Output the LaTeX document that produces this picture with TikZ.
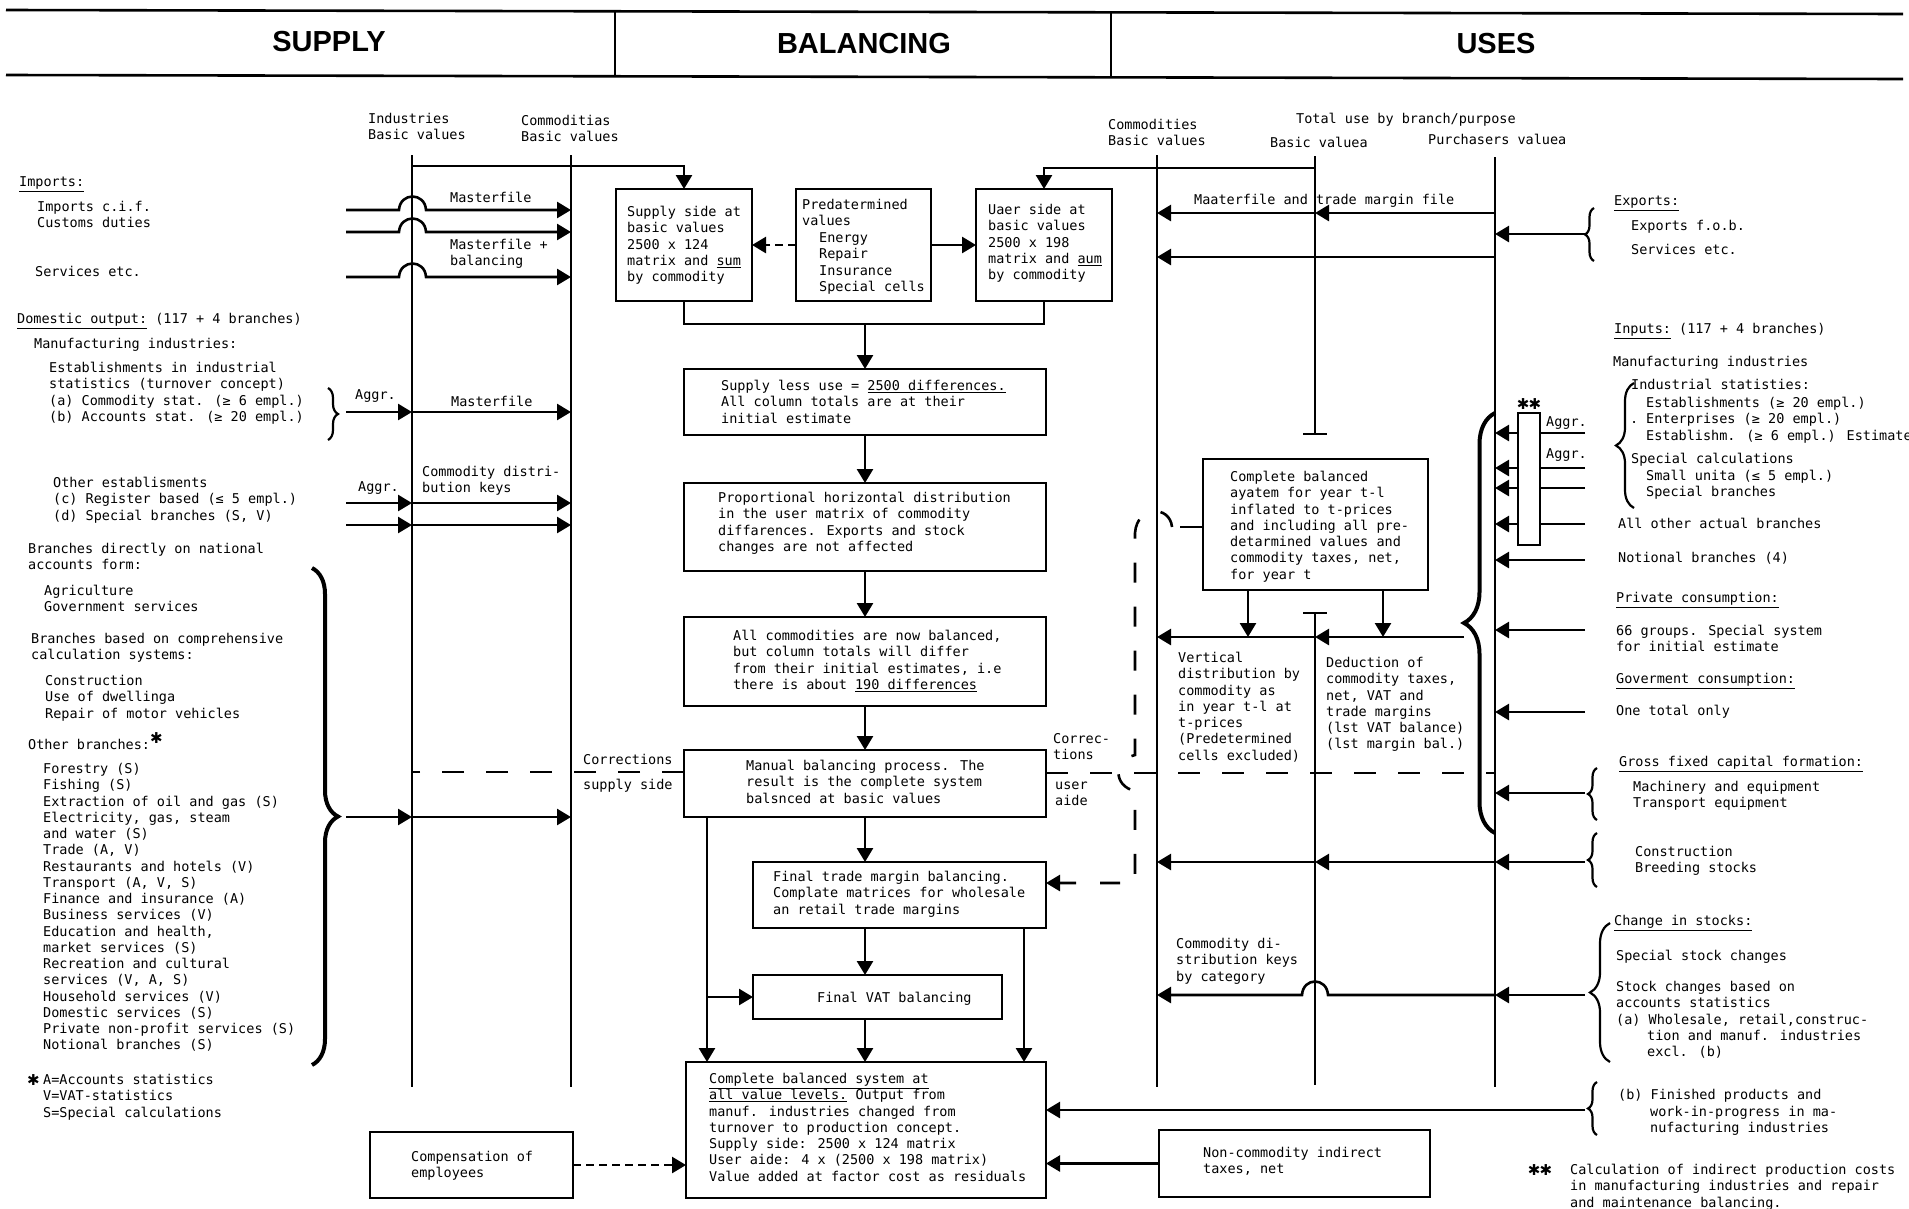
\documentclass[tikz,border=0pt]{standalone}
\usepackage{fontspec}
\setmainfont{DejaVu Sans Mono}
\newfontfamily\hdrfont{Liberation Sans}
\newfontfamily\symfont{DejaVu Sans}
\usetikzlibrary{arrows.meta,decorations.pathreplacing}
\newcommand\fs{\fontsize{13.5}{16.25}\selectfont}
\newcommand\TL[1]{\begin{tabular}[t]{@{}l@{}}#1\end{tabular}}
\newcommand\bigast{{\symfont\fontsize{15}{15}\selectfont ✱}}
\newcommand\MkBox[5]{\node[boxx, anchor=north west, minimum width={#4-#2}, minimum height={#5-#3}] (#1) at (#2,#3) {};}
\tikzset{
 bus/.style={line width=2.6pt},
 boxx/.style={draw, line width=2.6pt, inner sep=0pt, outer sep=0pt},
 arr/.style={line width=2.6pt, -{Triangle[length=14pt,width=16pt]}},
 darr/.style={arr, dash pattern=on 8pt off 5pt},
 ldash/.style={line width=2.6pt, dash pattern=on 22pt off 22pt},
 vdash/.style={line width=2.6pt, dash pattern=on 20pt off 24pt},
 txt/.style={anchor=base west, inner sep=0pt, font=\fs},
 hdr/.style={font=\hdrfont\bfseries\fontsize{29}{29}\selectfont, inner sep=0pt},
 brc/.style={decorate, decoration={brace, amplitude=#1}},
}
\begin{document}
\begin{tikzpicture}[x=1pt,y=-1pt]
\fill[white] (0,0) rectangle (1909,1208);
\useasboundingbox (0,0) rectangle (1909,1208);

% ---------------- header
\draw[line width=2.6pt] (6,10) -- (1903,14);
\draw[line width=2.6pt] (6,75) -- (1903,79);
\draw[line width=1.6pt] (615,11) -- (615,77);
\draw[line width=1.6pt] (1111,12) -- (1111,78);
\node[hdr] (hsup) at (329,42) {SUPPLY};
\node[hdr] (hbal) at (864,44) {BALANCING};
\node[hdr] (huse) at (1496,44) {USES};

% ---------------- column labels
\node[txt] (cl1) at (368,123.5) {\TL{Industries\\Basic values}};
\node[txt] (cl2) at (521,125.5) {\TL{Commoditias\\Basic values}};
\node[txt] (cl3) at (1108,129.5) {\TL{Commodities\\Basic values}};
\node[txt] (cl4) at (1296,123.5) {Total use by branch/purpose};
\node[txt] (cl5) at (1270,147.5) {Basic valuea};
\node[txt] (cl6) at (1428,144.5) {Purchasers valuea};

% ---------------- bus lines
\coordinate (L1t) at (412,155); \coordinate (L1b) at (412,1087);
\coordinate (L2t) at (571,155); \coordinate (L2b) at (571,1087);
\coordinate (R1t) at (1157,155); \coordinate (R1b) at (1157,1087);
\coordinate (R2t) at (1315,156); \coordinate (R2e) at (1315,434);
\coordinate (R2s) at (1315,613); \coordinate (R2b) at (1315,1085);
\coordinate (R3t) at (1495,157); \coordinate (R3b) at (1495,1087);
\draw[bus] (L1t) -- (L1b);
\draw[bus] (L2t) -- (L2b);
\draw[bus] (R1t) -- (R1b);
\draw[bus] (R2t) -- (R2e);
\draw[bus] (1303,434) -- (1327,434);
\draw[bus] (R2s) -- (R2b);
\draw[bus] (1303,613) -- (1327,613);
\draw[bus] (R3t) -- (R3b);

% ---------------- boxes
\MkBox{sup}{616}{189}{752}{301}
\MkBox{pred}{796}{189}{931}{301}
\MkBox{user}{976}{189}{1112}{301}
\MkBox{sless}{684}{369}{1046}{435}
\MkBox{prop}{684}{483}{1046}{571}
\MkBox{allc}{684}{617}{1046}{706}
\MkBox{man}{684}{750}{1046}{817}
\MkBox{ftm}{753}{862}{1046}{928}
\MkBox{vat}{753}{975}{1002}{1019}
\MkBox{fin}{686}{1062}{1046}{1198}
\MkBox{comp}{370}{1132}{573}{1198}
\MkBox{nonc}{1159}{1130}{1430}{1197}
\MkBox{cbal}{1203}{459}{1428}{590}
\MkBox{agg}{1518}{413}{1540}{545}

% ---------------- box texts
\node[txt] (tsup) at (627,216.5) {\TL{Supply side at\\basic values\\2500 x 124\\matrix and \underline{sum}\\by commodity}};
\node[txt] (tpred) at (802,209.5) {\TL{Predatermined\\values}};
\node[txt] (tpred2) at (819,242.5) {\TL{Energy\\Repair\\Insurance\\Special cells}};
\node[txt] (tuser) at (988,214.5) {\TL{Uaer side at\\basic values\\2500 x 198\\matrix and \underline{aum}\\by commodity}};
\node[txt] (tsless) at (721,390.5) {\TL{Supply less use = \underline{2500 differences.}\\All column totals are at their\\initial estimate}};
\node[txt] (tprop) at (718,502.5) {\TL{Proportional horizontal distribution\\in the user matrix of commodity\\diffarences. Exports and stock\\changes are not affected}};
\node[txt] (tallc) at (733,640.5) {\TL{All commodities are now balanced,\\but column totals will differ\\from their initial estimates, i.e\\there is about \underline{190 differences}}};
\node[txt] (tman) at (746,770.5) {\TL{Manual balancing process. The\\result is the complete system\\balsnced at basic values}};
\node[txt] (tftm) at (773,881.5) {\TL{Final trade margin balancing.\\Complate matrices for wholesale\\an retail trade margins}};
\node[txt] (tvat) at (817,1002.5) {Final VAT balancing};
\node[txt] (tfin) at (709,1083.5) {\TL{\underline{Complete balanced system at}\\\underline{all value levels.} Output from\\manuf. industries changed from\\turnover to production concept.\\Supply side: 2500 x 124 matrix\\User aide: 4 x (2500 x 198 matrix)\\Value added at factor cost as residuals}};
\node[txt] (tcomp) at (411,1161.5) {\TL{Compensation of\\employees}};
\node[txt] (tnonc) at (1203,1157.5) {\TL{Non-commodity indirect\\taxes, net}};
\node[txt] (tcbal) at (1230,481.5) {\TL{Complete balanced\\ayatem for year t-l\\inflated to t-prices\\and including all pre-\\detarmined values and\\commodity taxes, net,\\for year t}};
\node[txt] (tvert) at (1178,662.5) {\TL{Vertical\\distribution by\\commodity as\\in year t-l at\\t-prices\\(Predetermined\\cells excluded)}};
\node[txt] (tded) at (1326,667.5) {\TL{Deduction of\\commodity taxes,\\net, VAT and\\trade margins\\(lst VAT balance)\\(lst margin bal.)}};
\node[txt] (tckey) at (1176,948.5) {\TL{Commodity di-\\stribution keys\\by category}};

% ---------------- left texts
\node[txt] (l1) at (19,186.5) {\underline{Imports:}};
\node[txt] (l2) at (37,211.5) {\TL{Imports c.i.f.\\Customs duties}};
\node[txt] (l3) at (35,276.5) {Services etc.};
\node[txt] (l4) at (17,323.5) {\underline{Domestic output:} (117 + 4 branches)};
\node[txt] (l5) at (34,348.5) {Manufacturing industries:};
\node[txt] (l6) at (49,372.5) {\TL{Establishments in industrial\\statistics (turnover concept)\\(a) Commodity stat. (≥ 6 empl.)\\(b) Accounts stat. (≥ 20 empl.)}};
\node[txt] (l7) at (53,487.5) {\TL{Other establisments\\(c) Register based (≤ 5 empl.)\\(d) Special branches (S, V)}};
\node[txt] (l8) at (28,553.5) {\TL{Branches directly on national\\accounts form:}};
\node[txt] (l9) at (44,595.5) {\TL{Agriculture\\Government services}};
\node[txt] (l10) at (31,643.5) {\TL{Branches based on comprehensive\\calculation systems:}};
\node[txt] (l11) at (45,685.5) {\TL{Construction\\Use of dwellinga\\Repair of motor vehicles}};
\node[txt] (l12) at (28,749.5) {Other branches:\raisebox{6pt}{\bigast}};
\node[txt] (l13) at (43,773.5) {\TL{Forestry (S)\\Fishing (S)\\Extraction of oil and gas (S)\\Electricity, gas, steam\\and water (S)\\Trade (A, V)\\Restaurants and hotels (V)\\Transport (A, V, S)\\Finance and insurance (A)\\Business services (V)\\Education and health,\\market services (S)\\Recreation and cultural\\services (V, A, S)\\Household services (V)\\Domestic services (S)\\Private non-profit services (S)\\Notional branches (S)}};
\node[txt] (l14) at (27,1085.5) {\bigast};
\node[txt] (l15) at (43,1084.5) {\TL{A=Accounts statistics\\V=VAT-statistics\\S=Special calculations}};

% left line labels
\node[txt] (m1) at (450,202.5) {Masterfile};
\node[txt] (m2) at (450,249.5) {\TL{Masterfile +\\balancing}};
\node[txt] (m3) at (355,399.5) {Aggr.};
\node[txt] (m4) at (451,406.5) {Masterfile};
\node[txt] (m5) at (422,476.5) {\TL{Commodity distri-\\bution keys}};
\node[txt] (m6) at (358,491.5) {Aggr.};
\node[txt] (m7) at (583,764.5) {Corrections};
\node[txt] (m8) at (583,789.5) {supply side};
\node[txt] (m9) at (1053,743.5) {\TL{Correc-\\tions}};
\node[txt] (m10) at (1055,789.5) {\TL{user\\aide}};
\node[txt] (m11) at (1194,204.5) {Maaterfile and trade margin file};

% ---------------- right texts
\node[txt] (r1) at (1614,205.5) {\underline{Exports:}};
\node[txt] (r2) at (1631,230.5) {Exports f.o.b.};
\node[txt] (r3) at (1631,254.5) {Services etc.};
\node[txt] (r4) at (1614,333.5) {\underline{Inputs:} (117 + 4 branches)};
\node[txt] (r5) at (1613,366.5) {Manufacturing industries};
\node[txt] (r6) at (1631,389.5) {Industrial statisties:};
\node[txt] (r7) at (1646,407.5) {\TL{Establishments (≥ 20 empl.)\\Enterprises (≥ 20 empl.)\\Establishm. (≥ 6 empl.) Estimate}};
\node[txt] (r7d) at (1630,423.5) {.};
\node[txt] (r8) at (1631,463.5) {Special calculations};
\node[txt] (r9) at (1646,480.5) {\TL{Small unita (≤ 5 empl.)\\Special branches}};
\node[anchor=center, inner sep=0pt] (r10) at (1529,404) {\bigast\hspace{-1pt}\bigast};
\node[txt] (r11) at (1546,426.5) {Aggr.};
\node[txt] (r12) at (1546,458.5) {Aggr.};
\node[txt] (r13) at (1618,528.5) {All other actual branches};
\node[txt] (r14) at (1618,562.5) {Notional branches (4)};
\node[txt] (r15) at (1616,602.5) {\underline{Private consumption:}};
\node[txt] (r16) at (1616,635.5) {\TL{66 groups. Special system\\for initial estimate}};
\node[txt] (r17) at (1616,683.5) {\underline{Goverment consumption:}};
\node[txt] (r18) at (1616,715.5) {One total only};
\node[txt] (r19) at (1619,766.5) {\underline{Gross fixed capital formation:}};
\node[txt] (r20) at (1633,791.5) {\TL{Machinery and equipment\\Transport equipment}};
\node[txt] (r21) at (1635,856.5) {\TL{Construction\\Breeding stocks}};
\node[txt] (r22) at (1614,925.5) {\underline{Change in stocks:}};
\node[txt] (r23) at (1616,960.5) {Special stock changes};
\node[txt] (r24) at (1616,991.5) {\TL{Stock changes based on\\accounts statistics\\(a) Wholesale, retail,construc-}};
\node[txt] (r25) at (1647,1040.5) {\TL{tion and manuf. industries\\excl. (b)}};
\node[txt] (r26) at (1618,1099.5) {(b) Finished products and};
\node[txt] (r27) at (1650,1116.5) {\TL{work-in-progress in ma-\\nufacturing industries}};
\node[anchor=center, inner sep=0pt] (r28) at (1540,1170) {\bigast\hspace{-1pt}\bigast};
\node[txt] (r29) at (1570,1174.5) {\TL{Calculation of indirect production costs\\in manufacturing industries and repair\\and maintenance balancing.}};

% ---------------- left connectors
\draw[arr] (L1t|-0,166) -- (sup.north|-0,166) -- (sup.north);
\foreach \yy in {210,232,277} {
  \draw[arr] (346,\yy) -- (399,\yy) .. controls (400,\yy-18) and (425,\yy-18) .. (426,\yy) -- (L2t|-0,\yy);
}
\draw[brc=10, line width=2.2pt] (328,388) -- (328,440);
\foreach \yy in {412,503,525,817} {
  \draw[arr] (346,\yy) -- (L1t|-0,\yy);
  \draw[arr] (L1t|-0,\yy) -- (L2t|-0,\yy);
}
\draw[brc=26, line width=4pt] (312,568) -- (312,1065);
\draw[ldash] (man.west|-0,772) -- (L1t|-0,772);

% ---------------- center connectors
\draw[darr] (pred.west) -- (sup.east);
\draw[arr] (pred.east) -- (user.west);
\draw[arr] (R2t|-0,168) -- (user.north|-0,168) -- (user.north);
\draw[bus] (sup.south) -- (sup.south|-0,324) -- (user.south|-0,324) -- (user.south);
\draw[arr] (sless.north|-0,324) -- (sless.north);
\draw[arr] (sless.south) -- (prop.north);
\draw[arr] (prop.south) -- (allc.north);
\draw[arr] (allc.south) -- (man.north);
\draw[arr] (man.south) -- (man.south|-ftm.north);
\draw[arr] (man.south|-ftm.south) -- (man.south|-vat.north);
\draw[arr] (man.south|-vat.south) -- (man.south|-fin.north);
\draw[arr] (man.south-|707,0) -- (fin.north-|707,0);
\draw[arr] (vat.west-|707,0) -- (vat.west);
\draw[arr] (ftm.south-|1024,0) -- (fin.north-|1024,0);
\draw[darr] (comp.east) -- (comp.east-|fin.west);
\draw[arr] (nonc.west) -- (nonc.west-|fin.east);

% ---------------- right connectors
\draw[arr] (R3t|-0,213) -- (R2t|-0,213);
\draw[arr] (R2t|-0,213) -- (R1t|-0,213);
\draw[arr] (R3t|-0,257) -- (R1t|-0,257);
\draw[brc=9, line width=2.2pt] (1594,261) -- (1594,208);
\draw[arr] (1585,234) -- (R3t|-0,234);
\draw[brc=18, line width=2.2pt] (1634,508) -- (1634,383);
\foreach \yy in {433,468,488,524} {
  \draw[bus] (1585,\yy) -- (agg.east|-0,\yy);
  \draw[arr] (agg.west|-0,\yy) -- (R3t|-0,\yy);
}
\foreach \yy in {560,630,712,793} {
  \draw[arr] (1585,\yy) -- (R3t|-0,\yy);
}
\draw[brc=31, line width=4pt] (1495,833) -- (1495,413);
\draw[arr] (1464,637) -- (R2t|-0,637);
\draw[arr] (R2t|-0,637) -- (R1t|-0,637);
\draw[arr] (cbal.south-|1248,0) -- (1248,637);
\draw[arr] (cbal.south-|1383,0) -- (1383,637);
\draw[brc=9, line width=2.2pt] (1597,820) -- (1597,768);
\draw[brc=9, line width=2.2pt] (1597,887) -- (1597,833);
\draw[arr] (1585,862) -- (R3t|-0,862);
\draw[arr] (R3t|-0,862) -- (R2t|-0,862);
\draw[arr] (R2t|-0,862) -- (R1t|-0,862);
\draw[brc=20, line width=2.2pt] (1610,1062) -- (1610,923);
\draw[arr] (1585,995) -- (R3t|-0,995);
\draw[arr] (R3t|-0,995) -- (1328,995) .. controls (1327,977) and (1303,977) .. (1302,995) -- (R1t|-0,995);
\draw[brc=9, line width=2.2pt] (1597,1135) -- (1597,1082);
\draw[arr] (1585,1110) -- (fin.east|-0,1110);

% dashed correction loop
\draw[ldash] (man.east|-0,773) -- (R3t|-0,773);
\draw[bus] (cbal.west|-0,527) -- (1180,527);
\draw[vdash, -{Triangle[length=14pt,width=16pt]}] (1172,527) .. controls (1170,505) and (1137,505) .. (1135,533) -- (1135,755) .. controls (1113,760) and (1113,786) .. (1135,791) -- (1135,883) -- (ftm.east|-0,883);
\end{tikzpicture}
\end{document}
